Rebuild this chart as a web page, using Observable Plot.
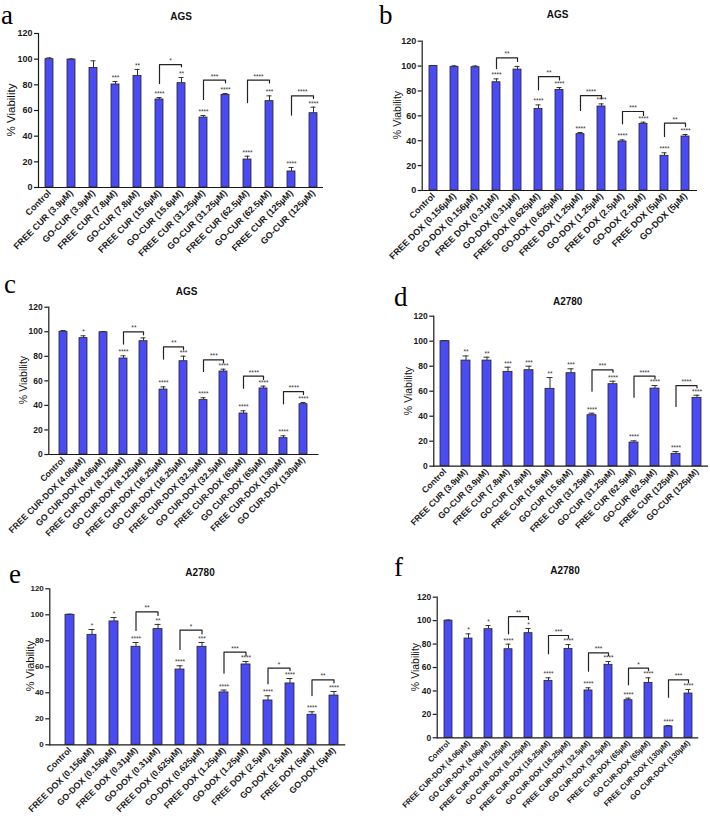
<!DOCTYPE html>
<html><head><meta charset="utf-8">
<script src="https://cdn.jsdelivr.net/npm/d3@7"></script>
<script src="https://cdn.jsdelivr.net/npm/@observablehq/plot@0.6"></script>
<style>
body{margin:0;background:#fff;}
#fig{position:relative;width:710px;height:822px;overflow:hidden;background:#fff;font-family:Arial,"Liberation Sans",sans-serif;}
.panel{position:absolute;}
.letter{position:absolute;font-family:"Liberation Serif","Times New Roman",serif;line-height:1;color:#000;}
.title{position:absolute;font-weight:bold;font-size:10px;line-height:1;transform:translate(-50%,-50%);color:#111;white-space:nowrap;}
.ylab{position:absolute;font-size:11px;line-height:1;color:#111;white-space:nowrap;transform:translate(-50%,-50%) rotate(-90deg);}
</style></head><body><div id="fig"></div>
<script>
// ---------- categories ----------
const curCats = ["Control","FREE CUR (3.9µM)","GO-CUR (3.9µM)","FREE CUR (7.8µM)","GO-CUR (7.8µM)","FREE CUR (15.6µM)","GO-CUR (15.6µM)","FREE CUR (31.25µM)","GO-CUR (31.25µM)","FREE CUR (62.5µM)","GO-CUR (62.5µM)","FREE CUR (125µM)","GO-CUR (125µM)"];
const doxCats = ["Control","FREE DOX (0.156µM)","GO-DOX (0.156µM)","FREE DOX (0.31µM)","GO-DOX (0.31µM)","FREE DOX (0.625µM)","GO-DOX (0.625µM)","FREE DOX (1.25µM)","GO-DOX (1.25µM)","FREE DOX (2.5µM)","GO-DOX (2.5µM)","FREE DOX (5µM)","GO-DOX (5µM)"];
const comboCats = ["Control","FREE CUR-DOX (4.06µM)","GO CUR-DOX (4.06µM)","FREE CUR-DOX (8.125µM)","GO CUR-DOX (8.125µM)","FREE CUR-DOX (16.25µM)","GO CUR-DOX (16.25µM)","FREE CUR-DOX (32.5µM)","GO CUR-DOX (32.5µM)","FREE CUR-DOX (65µM)","GO CUR-DOX (65µM)","FREE CUR-DOX (130µM)","GO CUR-DOX (130µM)"];
const yTicks = [0,20,40,60,80,100,120];

// ---------- values (% viability), error bars, significance ----------
const valA = [100,99.7,93.2,80.3,87,68.6,81.3,54.5,72.2,21.8,67.3,12.5,57.9];
const errA = [1,0.5,5.5,2.3,5,1.5,4.4,1.6,1,2.6,4.1,3.1,4.7];
const sigA = ["","","","***","**","****","**","****","****","****","***","****","****"];
const brA = [[5,95.8,81,94,"*"],[7,83.6,68.6,81.6,"***"],[9,83.6,66.2,81.5,"****"],[11,71.4,56.4,69.4,"****"]];

const valB = [100,99.4,99.1,87,97.2,65.6,80.9,45.3,67.5,39.4,53.6,27.9,43.4];
const errB = [0.5,0.8,1,2.7,2.5,3.2,1.9,1.3,2.1,1.3,1.3,2.4,1.6];
const sigB = ["","","","****","","****","****","****","****","****","****","****","****"];
const brB = [[3,106.6,98,103.7,"**"],[5,91.6,80.9,88.9,"**"],[7,76.3,64.3,73.7,"****"],[9,63.5,53.6,60.3,"***"],[11,54.1,43.4,51.4,"**"]];

const valC = [100,94.8,99.6,78.2,92.3,52.9,76,44.3,67.6,33.4,53.8,13.3,41];
const errC = [1,1.9,0.5,2.2,2.7,2.2,4.1,1.9,1.9,2.2,1.9,1.9,1.4];
const sigC = ["","*","","****","","****","***","****","****","****","****","****","****"];
const brC = [[3,99.9,90,97.5,"**"],[5,87.7,77.7,85.5,"**"],[7,77.1,67.6,74.7,"***"],[9,63.8,54,61.1,"****"],[11,51.3,41.3,48.9,"****"]];

const valD = [100,84.5,84.5,75.5,76.8,61.9,74.4,40.8,65.6,18.9,62.1,9.9,54.7];
const errD = [0.5,3.7,2.7,3.7,3.2,9,3.5,1.6,2.4,1.4,2.4,1.8,2.1];
const sigD = ["","**","**","***","***","**","***","****","****","****","****","****","****"];
const brD = [[7,77.1,60,75.2,"***"],[9,72,55.2,69.9,"****"],[11,64.5,47.7,62.7,"****"]];

const valE = [100,84.6,94.9,75.4,89,57.9,75.4,40.3,61.8,34.1,47.2,23.1,37.9];
const errE = [0.5,4.1,3,3.3,3.6,2.9,3.3,1.8,2.3,3.6,3.8,2.3,3.1];
const sigE = ["","*","*","****","**","****","***","****","****","****","****","****","****"];
const brE = [[3,102.3,88,99.5,"**"],[5,88.2,73.3,85.4,"*"],[7,71.3,55.1,68.7,"***"],[9,59,46.9,57.2,"*"],[11,50,37.9,47.7,"**"]];

const valF = [100,84.7,92.7,75.6,89.3,48.6,75.9,40.4,62.3,32.1,46.9,9.7,37.8];
const errF = [0.5,4,3.1,4.3,4,2.6,3.7,2.3,2.8,1.7,4.3,0.8,3.4];
const sigF = ["","*","*","****","*","****","****","****","****","****","****","****","****"];
const brF = [[3,103.5,88.7,101,"**"],[5,87.3,71.7,85,"***"],[7,72.5,56.9,70.2,"***"],[9,59.4,45.2,57.4,"*"],[11,49.5,34.7,46.9,"***"]];

// ---------- layout (styles only) ----------
const panels = [
  {letter:"a", title:"AGS",   cats:curCats,   vals:valA, errs:errA, sig:sigA, br:brA,
   left:0,   top:0,   w:355, h:270, ml:38,   mr:32,   mt:33,   mb:83,   iL:0.3, iR:-1.3, pad:0.64, xfs:9, yts:9,
   tx:181, ty:17, lx:1, lb:26, ls:27, yx:11.7, yy:110, yfs:11.5},
  {letter:"b", title:"AGS",   cats:doxCats,   vals:valB, errs:errB, sig:sigB, br:brB,
   left:355, top:0,   w:355, h:270, ml:66.7, mr:13,   mt:40.7, mb:80,   iL:0,   iR:0,    pad:0.62, xfs:9, yts:9,
   tx:202.7, ty:15, lx:24, lb:26, ls:27, yx:41.7, yy:115, yfs:10.5},
  {letter:"c", title:"AGS",   cats:comboCats, vals:valC, errs:errC, sig:sigC, br:brC,
   left:0,   top:270, w:355, h:275, ml:48.3, mr:36.5, mt:36.7, mb:91,   iL:0,   iR:0,    pad:0.6, xfs:8.7, yts:8.5,
   tx:186.7, ty:21.7, lx:4, lb:25, ls:27, yx:23.3, yy:110, yfs:10.5},
  {letter:"d", title:"A2780", cats:curCats,   vals:valD, errs:errD, sig:sigD, br:brD,
   left:355, top:270, w:355, h:275, ml:78.3, mr:2,    mt:45.7, mb:79.3, iL:-0.6, iR:0,   pad:0.56, xfs:8.6, yts:8.5,
   tx:212.7, ty:31.7, lx:39, lb:38, ls:27, yx:53.3, yy:120.7, yfs:10.5},
  {letter:"e", title:"A2780", cats:doxCats,   vals:valE, errs:errE, sig:sigE, br:brE,
   left:0,   top:545, w:355, h:277, ml:49.3, mr:9.7,  mt:43.3, mb:77.7, iL:9,   iR:0,    pad:0.59, xfs:8.8, yts:8,
   tx:200, ty:28.3, lx:9, lb:40, ls:27, yx:29.5, yy:121.3, yfs:11},
  {letter:"f", title:"A2780", cats:comboCats, vals:valF, errs:errF, sig:sigF, br:brF,
   left:355, top:545, w:355, h:277, ml:81.7, mr:11.7, mt:51.7, mb:84.7, iL:1.6, iR:0,    pad:0.6, xfs:7.7, yts:8.5,
   tx:210, ty:26, lx:39, lb:33, ls:27, yx:60, yy:122, yfs:10.5}
];

const BLUE = "#4b4bf4", INK = "#1a1a1a";
const fig = document.getElementById("fig");

for (const p of panels) {
  const rows = p.cats.map((c, i) => ({cat: c, v: p.vals[i], e: p.errs[i], s: p.sig[i]}));
  const brLines = [];
  const brText = [];
  p.br.forEach((b, k) => {
    const [i, top, lo, ro, lab] = b;
    const c1 = p.cats[i], c2 = p.cats[i + 1];
    brLines.push({k, cat: c1, y: lo}, {k, cat: c1, y: top}, {k, cat: c2, y: top}, {k, cat: c2, y: ro});
    brText.push({c1, c2, y: top, lab});
  });
  // half a band step, so a bracket's label sits midway between its two bars
  const halfStep = (p.w - p.ml - p.mr - p.iL - p.iR) / p.cats.length / 2;

  const chart = Plot.plot({
    width: p.w, height: p.h,
    marginLeft: p.ml, marginRight: p.mr, marginTop: p.mt, marginBottom: p.mb,
    style: {background: "none", overflow: "visible", maxWidth: "none", fontFamily: "Arial, 'Liberation Sans', sans-serif", color: INK},
    x: {type: "band", domain: p.cats, paddingInner: p.pad, paddingOuter: p.pad / 2, insetLeft: p.iL, insetRight: p.iR, axis: null},
    y: {domain: [0, 120], axis: null},
    marks: [
      Plot.barY(rows, {x: "cat", y: "v", fill: BLUE, stroke: "#222", strokeWidth: 0.8}),
      Plot.ruleX(rows, {x: "cat", y1: "v", y2: d => d.v + d.e, stroke: "#333", strokeWidth: 1}),
      Plot.tickY(rows, {x: "cat", y: d => d.v + d.e, stroke: "#333", strokeWidth: 1, insetLeft: 1.5, insetRight: 1.5}),
      Plot.text(rows, {x: "cat", y: d => d.v + d.e, text: "s", dy: -1.5, lineAnchor: "bottom", fontSize: 6.5, fill: "#333"}),
      Plot.line(brLines, {x: "cat", y: "y", z: "k", stroke: "#222", strokeWidth: 1.2}),
      Plot.text(brText, {x: "c1", y: "y", text: "lab", dx: halfStep, dy: -1.5, lineAnchor: "bottom", fontSize: 6.5, fill: "#333"}),
      Plot.axisY({ticks: yTicks, tickSize: 4, tickPadding: 2, fontSize: p.yts, fontWeight: "bold", label: null, stroke: INK, strokeWidth: 1.2}),
      Plot.axisX({tickRotate: -45, tickSize: 0, tickPadding: 4, fontSize: p.xfs, fontWeight: "bold", label: null}),
      Plot.frame({anchor: "left", stroke: INK, strokeWidth: 1.2}),
      Plot.ruleY([0], {stroke: INK, strokeWidth: 1.2})
    ]
  });
  const wrap = document.createElement("div");
  wrap.className = "panel";
  wrap.style.left = p.left + "px"; wrap.style.top = p.top + "px";
  wrap.style.width = p.w + "px"; wrap.style.height = p.h + "px";
  wrap.appendChild(chart);
  fig.appendChild(wrap);

  const t = document.createElement("div");
  t.className = "title"; t.textContent = p.title;
  t.style.left = (p.left + p.tx) + "px"; t.style.top = (p.top + p.ty) + "px";
  fig.appendChild(t);

  const l = document.createElement("div");
  l.className = "letter"; l.textContent = p.letter;
  l.style.fontSize = p.ls + "px";
  l.style.left = (p.left + p.lx) + "px"; l.style.top = Math.max(2, p.top + p.lb - p.ls * 0.89) + "px";
  fig.appendChild(l);

  const y = document.createElement("div");
  y.className = "ylab"; y.textContent = "% Viability";
  y.style.fontSize = p.yfs + "px";
  y.style.left = (p.left + p.yx) + "px"; y.style.top = (p.top + p.yy) + "px";
  fig.appendChild(y);
}
</script></body></html>
